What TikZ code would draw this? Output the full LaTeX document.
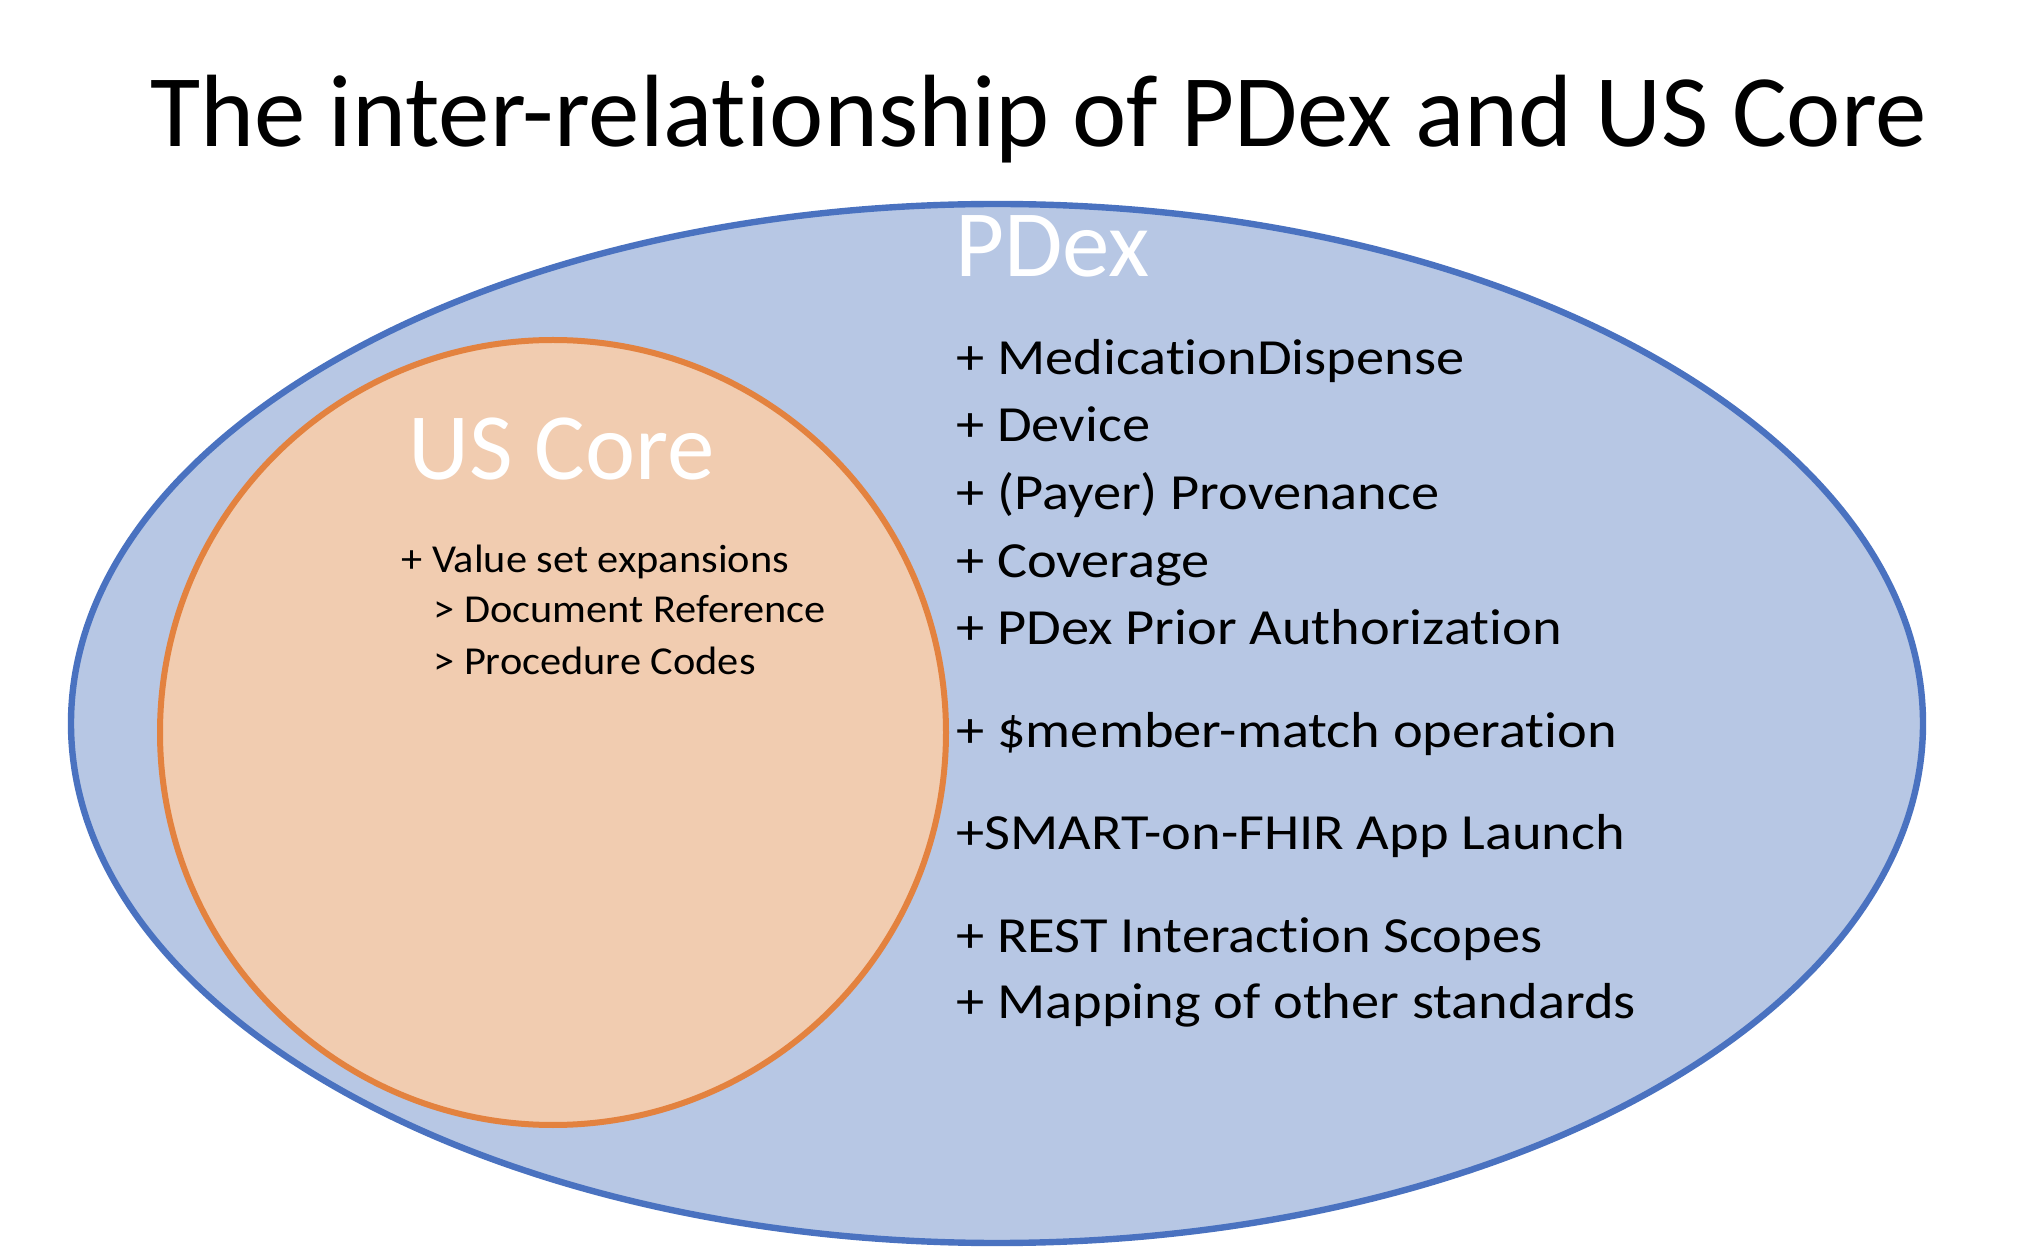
\documentclass[tikz,border=0pt]{standalone}
\usepackage{fontspec}
\setmainfont{Carlito}[Ligatures={NoCommon}]
\usetikzlibrary{shapes.geometric}
\definecolor{pdexfill}{HTML}{B7C7E4}
\definecolor{pdexline}{HTML}{4A72C0}
\definecolor{corefill}{HTML}{F1CCB0}
\definecolor{coreline}{HTML}{E3823F}
\newcommand{\widelist}[1]{\scalebox{1.115}[1]{#1}}
\newcommand{\widesub}[1]{\scalebox{1.07}[1]{#1}}
\tikzset{
  listtext/.style={anchor=base west, inner sep=0pt, font=\fontsize{25.3}{30}\selectfont},
  subtext/.style={anchor=base west, inner sep=0pt, font=\fontsize{19.8}{24}\selectfont},
  bigtext/.style={anchor=base west, inner sep=0pt, text=white, font=\fontsize{47.5}{56}\selectfont},
}
\begin{document}
\begin{tikzpicture}[x=0.5pt,y=-0.5pt]
\useasboundingbox (0,0) rectangle (2042,1256);
\fill[white] (0,0) rectangle (2042,1256);
\node[anchor=base west, inner sep=0pt, font=\fontsize{51.4}{60}\selectfont] (title) at (150,147) {The inter-relationship of PDex and US Core};
\draw[pdexline, fill=pdexfill, line width=3.2pt] (997,723.5) ellipse [x radius=463pt, y radius=259.75pt];
\draw[coreline, fill=corefill, line width=3pt] (553,732.5) ellipse [x radius=196.5pt, y radius=196.25pt];
\node[bigtext] (pdex) at (955,277) {PDex};
\node[bigtext] (uscore) at (408,480) {US Core};
\node[subtext] (c1) at (401,573) {\widesub{+ Value set expansions}};
\node[subtext] (c2) at (433,623) {\widesub{> Document Reference}};
\node[subtext] (c3) at (433,675) {\widesub{> Procedure Codes}};
\node[listtext] (p1) at (956,375) {\widelist{+ MedicationDispense}};
\node[listtext] (p2) at (956,442) {\widelist{+ Device}};
\node[listtext] (p3) at (956,510) {\widelist{+ (Payer) Provenance}};
\node[listtext] (p4) at (956,578) {\widelist{+ Coverage}};
\node[listtext] (p5) at (956,645) {\widelist{+ PDex Prior Authorization}};
\node[listtext] (p6) at (956,748) {\widelist{+ \$member-match operation}};
\node[listtext] (p7) at (956,850) {\widelist{+SMART-on-FHIR App Launch}};
\node[listtext] (p8) at (956,952) {\widelist{+ REST Interaction Scopes}};
\node[listtext] (p9) at (956,1018) {\widelist{+ Mapping of other standards}};
\end{tikzpicture}
\end{document}
